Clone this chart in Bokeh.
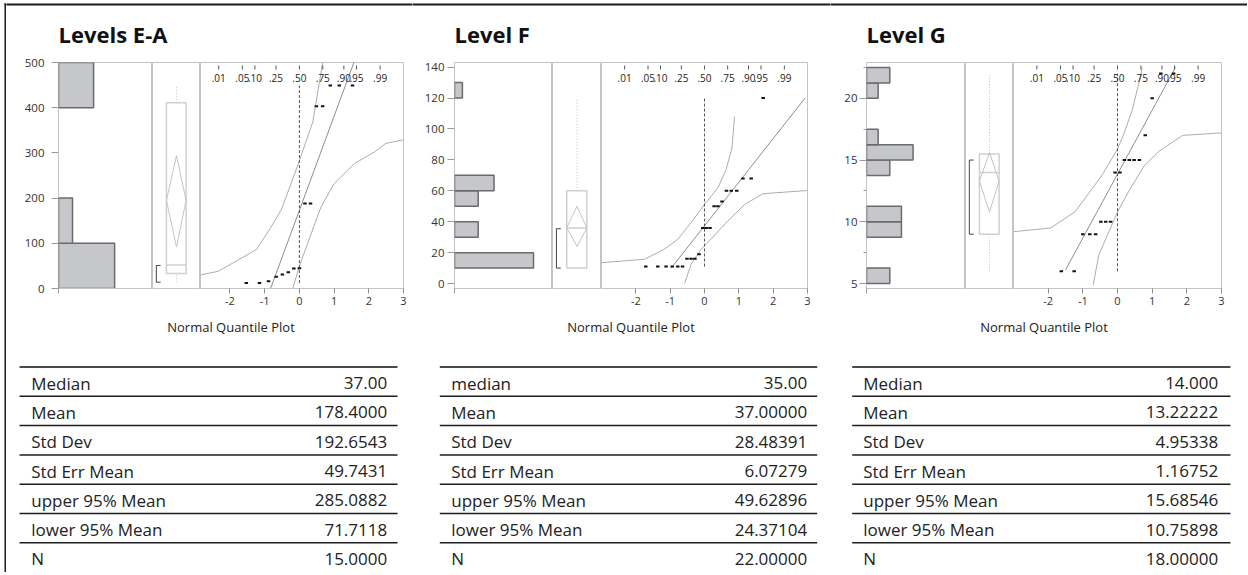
from bokeh.plotting import figure
from bokeh.models import Range1d, LinearAxis, FixedTicker
from bokeh.layouts import row, column
from bokeh.embed import file_html
from bokeh.resources import INLINE
from bokeh.core.properties import value

FONT = "Open Sans"

# ---------------- shared ----------------
prob_labels = [".01", ".05", ".10", ".25", ".50", ".75", ".90", ".95", ".99"]
prob_z = [-2.326, -1.645, -1.282, -0.674, 0.0, 0.674, 1.282, 1.645, 2.326]
qq_xticks = [-2, -1, 0, 1, 2, 3]
caption = "Normal Quantile Plot"

# ---------------- Levels E-A ----------------
ea_title = "Levels E-A"
ea_bin_lo = [0, 100, 400]
ea_bin_hi = [100, 200, 500]
ea_counts = [8, 2, 5]
ea_values = [12, 12, 16, 26, 31, 36, 44, 45, 188, 188, 403, 403, 449, 449, 449]
ea_qx = [-1.53, -1.15, -0.89, -0.67, -0.49, -0.32, -0.16, 0.00, 0.16, 0.32, 0.49, 0.67, 0.89, 1.15, 1.53]
ea_fit_x = [-0.83, 1.57]
ea_fit_y = [0, 500]
ea_upper_x = [-2.85, -2.34, -1.24, -0.84, -0.53, -0.24, 0.00, 0.385, 0.67]
ea_upper_y = [30, 38, 86, 133, 173, 232, 283, 368, 500]
ea_lower_x = [-0.19, 0.00, 0.62, 1.00, 1.58, 2.16, 2.49, 3.00]
ea_lower_y = [0, 50, 180, 232, 276, 302, 321, 329]
ea_box = [14, 33, 52, 411, 449]      # whisker low, q1, median, q3, whisker high
ea_diamond = [92, 195, 294]          # lower 95%, mean, upper 95%
ea_shortest = [14, 51]
ea_yticks = [0, 100, 200, 300, 400, 500]
ea_yminor = []
ea_yrange = [0, 500]
ea_hist_max = 13.4
ea_qrange = [-2.85, 3]
ea_stat_names = ["Median", "Mean", "Std Dev", "Std Err Mean", "upper 95% Mean", "lower 95% Mean", "N"]
ea_stat_values = ["37.00", "178.4000", "192.6543", "49.7431", "285.0882", "71.7118", "15.0000"]

# ---------------- Level F ----------------
f_title = "Level F"
f_bin_lo = [10, 30, 50, 60, 120]
f_bin_hi = [20, 40, 60, 70, 130]
f_counts = [10, 3, 3, 5, 1]
f_values = [11, 11, 11, 11, 11, 11, 16, 16, 16, 19, 36, 36, 36, 50, 50, 53, 60, 60, 60, 68, 68, 120]
f_qx = [-1.71, -1.36, -1.12, -0.94, -0.78, -0.64, -0.51, -0.39, -0.28, -0.16, -0.05,
        0.05, 0.16, 0.28, 0.39, 0.51, 0.64, 0.78, 0.94, 1.12, 1.36, 1.71]
f_fit_x = [-0.97, 2.93]
f_fit_y = [10, 120]
f_upper_x = [-3.0, -1.75, -1.17, -0.78, -0.39, 0.0, 0.39, 0.63, 0.80, 0.875]
f_upper_y = [13.5, 15.7, 22.2, 28.6, 39.4, 51.2, 61.9, 73.8, 87.7, 108]
f_lower_x = [-0.58, -0.39, -0.10, 0.0, 0.68, 1.17, 1.70, 3.0]
f_lower_y = [0, 12.5, 22.2, 24.3, 40.5, 51.2, 58.1, 60.2]
f_box = [10, 10, 36, 60, 120]
f_diamond = [24, 36, 50]
f_shortest = [10, 35.5]
f_yticks = [0, 20, 40, 60, 80, 100, 120, 140]
f_yminor = []
f_yrange = [-3.2, 143]
f_hist_max = 12.4
f_qrange = [-3, 3]
f_stat_names = ["median", "Mean", "Std Dev", "Std Err Mean", "upper 95% Mean", "lower 95% Mean", "N"]
f_stat_values = ["35.00", "37.00000", "28.48391", "6.07279", "49.62896", "24.37104", "22.00000"]

# ---------------- Level G ----------------
g_title = "Level G"
g_bin_lo = [5, 8.75, 10, 13.75, 15, 16.25, 20, 21.25]
g_bin_hi = [6.25, 10, 11.25, 15, 16.25, 17.5, 21.25, 22.5]
g_counts = [2, 3, 3, 2, 4, 1, 1, 2]
g_values = [6, 6, 9, 9, 9, 10, 10, 10, 14, 14, 15, 15, 15, 15, 17, 20, 22, 22]
g_qx = [-1.62, -1.25, -1.00, -0.80, -0.63, -0.48, -0.34, -0.20, -0.07,
        0.07, 0.20, 0.34, 0.48, 0.63, 0.80, 1.00, 1.25, 1.62]
g_fit_x = [-1.5, 1.67]
g_fit_y = [6.1, 22.5]
g_upper_x = [-3.0, -1.93, -1.23, -0.83, -0.44, 0.0, 0.18, 0.42, 0.66, 0.71]
g_upper_y = [9.2, 9.5, 10.8, 12.3, 13.8, 15.9, 17.1, 19.0, 21.7, 22.5]
g_lower_x = [-0.70, -0.54, -0.25, 0.0, 0.33, 0.76, 1.19, 1.88, 3.0]
g_lower_y = [4.9, 7.3, 9.2, 10.8, 12.5, 14.5, 15.7, 17.0, 17.2]
g_box = [6, 9, 14, 15.5, 22]
g_diamond = [10.8, 13.3, 15.6]
g_shortest = [9, 15]
g_yticks = [5, 10, 15, 20]
g_yminor = [7.5, 12.5, 17.5, 22.5]
g_yrange = [4.6, 22.9]
g_hist_max = 8.5
g_qrange = [-3, 3]
g_stat_names = ["Median", "Mean", "Std Dev", "Std Err Mean", "upper 95% Mean", "lower 95% Mean", "N"]
g_stat_values = ["14.000", "13.22222", "4.95338", "1.16752", "15.68546", "10.75898", "18.00000"]


def pack(prefix):
    gl = globals()
    keys = ["title", "bin_lo", "bin_hi", "counts", "values", "qx", "fit_x", "fit_y",
            "upper_x", "upper_y", "lower_x", "lower_y", "box", "diamond", "shortest",
            "yticks", "yminor", "yrange", "hist_max", "qrange", "stat_names", "stat_values"]
    return {k: gl[prefix + "_" + k] for k in keys}


BORDER_W = 6
# layout (pixels) for each panel, relative to the panel's left edge
layouts = [
    dict(hoff=52, hw=94, bw=48, qw=203, rb=9, ystand=7, tl=13, tr=391, lx=24.7, vx=380.7),
    dict(hoff=42, hw=98, bw=49, qw=206, rb=23, ystand=3, tl=27.3, tr=404.7, lx=38.7, vx=394.7),
    dict(hoff=36, hw=99, bw=48, qw=208, rb=26, ystand=2, tl=21.7, tr=400, lx=32.7, vx=387.7),
]

TOPPAD = 10                    # room above the frames for the top tick labels
H_T, H_P, H_U = 62 - TOPPAD, 250 + TOPPAD, 260
H_ALL = H_T + H_P + H_U
BOT = 24
FH = H_P - BOT - TOPPAD
FRAME = "#c4c4c4"
TXT = "#222222"
EDGE = "#1a1a1a"
EDGE_Y = 4


def base_fig(**kw):
    p = figure(toolbar_location=None, output_backend="svg", min_border=0,
               x_axis_location=None, y_axis_location=None, **kw)
    p.grid.visible = False
    p.background_fill_color = "white"
    p.border_fill_color = "white"
    return p


def build_panel(d, L):
    W = L["hoff"] + L["hw"] + L["bw"] + L["qw"] + L["rb"]
    yr = Range1d(d["yrange"][0], d["yrange"][1])
    y0, y1 = d["yrange"]
    span = y1 - y0

    # title (with the top edge of the outer frame)
    t = base_fig(width=W, height=H_T, x_range=Range1d(0, W), y_range=Range1d(H_T, 0))
    t.outline_line_color = None
    t.segment(x0=[-3], y0=[EDGE_Y], x1=[W + 3], y1=[EDGE_Y], line_color=EDGE, line_width=2)
    t.text(x=[L["hoff"]], y=[33.7], text=[d["title"]], text_font=value(FONT),
           text_font_size="22px", text_font_style="bold", text_baseline="middle",
           text_align="left", text_color="#111111")

    # histogram
    h = base_fig(width=L["hoff"] + L["hw"], height=H_P, x_range=Range1d(0, d["hist_max"]),
                 y_range=yr, min_border_left=L["hoff"], min_border_bottom=BOT,
                 min_border_top=TOPPAD)
    h.outline_line_color = FRAME
    h.quad(left=0, right=d["counts"], bottom=d["bin_lo"], top=d["bin_hi"],
           fill_color="#c6c7cb", line_color="#6b6b6b", line_width=1.5)
    yax = LinearAxis(ticker=FixedTicker(ticks=d["yticks"], minor_ticks=d["yminor"]),
                     major_tick_out=7, major_tick_in=0, minor_tick_out=3, minor_tick_in=0,
                     major_tick_line_color="#9a9a9a", minor_tick_line_color="#9a9a9a",
                     axis_line_color=None, major_label_text_font=FONT,
                     major_label_text_font_size="11.5px", major_label_text_color="#333333",
                     major_label_standoff=L["ystand"])
    h.add_layout(yax, "left")
    hx = LinearAxis(ticker=FixedTicker(ticks=[0]), major_label_overrides={0: ""},
                    major_tick_out=5, major_tick_in=0, major_tick_line_color="#9a9a9a",
                    axis_line_color=FRAME, major_label_text_font_size="11px")
    h.add_layout(hx, "below")

    # box plot
    b = base_fig(width=L["bw"], height=H_P, x_range=Range1d(0, 1), y_range=yr,
                 min_border_bottom=BOT, min_border_top=TOPPAD)
    b.outline_line_color = FRAME
    wlo, q1, med, q3, whi = d["box"]
    lo, mean, hi = d["diamond"]
    s_lo, s_hi = d["shortest"]
    b.segment(x0=[0.5, 0.5], y0=[wlo, q3], x1=[0.5, 0.5], y1=[q1, whi],
              line_color="#c4c4c4", line_dash="1 2", line_width=1)
    b.quad(left=[0.29], right=[0.70], bottom=[q1], top=[q3], fill_color=None,
           line_color="#cfcfcf", line_width=1.5)
    b.segment(x0=[0.29], y0=[med], x1=[0.70], y1=[med], line_color="#cfcfcf", line_width=1.5)
    b.patch(x=[0.29, 0.5, 0.70, 0.5], y=[mean, hi, mean, lo], fill_color=None,
            line_color="#c4c4c4", line_width=1)
    b.line(x=[0.17, 0.08, 0.08, 0.17], y=[s_hi, s_hi, s_lo, s_lo], line_color="#444444",
           line_width=1)

    # normal quantile plot
    q = base_fig(width=L["qw"] + L["rb"], height=H_P, x_range=Range1d(*d["qrange"]),
                 y_range=yr, min_border_right=L["rb"], min_border_bottom=BOT,
                 min_border_top=TOPPAD)
    q.outline_line_color = FRAME
    q.line(d["upper_x"], d["upper_y"], line_color="#acacac", line_width=1)
    q.line(d["lower_x"], d["lower_y"], line_color="#acacac", line_width=1)
    q.line(d["fit_x"], d["fit_y"], line_color="#8e8e8e", line_width=1)
    q.segment(x0=[0], y0=[min(d["values"])], x1=[0], y1=[max(d["values"])],
              line_color="#555555", line_dash="3 2", line_width=1)
    q.rect(x=d["qx"], y=d["values"], width=3.5, height=2, width_units="screen",
           height_units="screen", fill_color="#111111", line_color=None)
    n = len(prob_z)
    q.segment(x0=prob_z, y0=[y1 - 3 / FH * span] * n, x1=prob_z, y1=[y1 - 7 / FH * span] * n,
              line_color="#555555", line_width=1)
    q.text(x=prob_z, y=[y1 - 15.7 / FH * span] * n, text=prob_labels, text_font=value(FONT),
           text_font_size="10px", text_align="center", text_baseline="middle",
           text_color=TXT)
    qx = LinearAxis(ticker=FixedTicker(ticks=qq_xticks),
                    major_label_overrides={-2: "-2", -1: "-1"},
                    major_tick_out=5, major_tick_in=0, major_tick_line_color="#8a8a8a",
                    axis_line_color=FRAME, major_label_text_font=FONT,
                    major_label_text_font_size="11px", major_label_text_color="#333333",
                    major_label_standoff=3)
    q.add_layout(qx, "below")

    # caption + statistics table
    u = base_fig(width=W, height=H_U, x_range=Range1d(0, W), y_range=Range1d(H_U, 0))
    u.outline_line_color = None
    cx = L["hoff"] + (L["hw"] + L["bw"] + L["qw"]) / 2
    u.text(x=[cx], y=[14.7], text=[caption], text_font=value(FONT), text_font_size="13px",
           text_align="center", text_baseline="middle", text_color=TXT)
    names = d["stat_names"]
    vals = d["stat_values"]
    m = len(names)
    top, step = 54.5, 29.3
    u.segment(x0=[L["tl"]], y0=[top], x1=[L["tr"]], y1=[top], line_color="#4a4a4a",
              line_width=2)
    ly = [top + step * k for k in range(1, m)]
    u.segment(x0=[L["tl"]] * (m - 1), y0=ly, x1=[L["tr"]] * (m - 1), y1=ly,
              line_color="#1e1e1e", line_width=1.5)
    ty = [top + step * (k + 0.55) for k in range(m)]
    u.text(x=[L["lx"]] * m, y=ty, text=names, text_font=value(FONT), text_font_size="17px",
           text_align="left", text_baseline="middle", text_color=TXT)
    u.text(x=[L["vx"]] * m, y=ty, text=vals, text_font=value(FONT), text_font_size="17px",
           text_align="right", text_baseline="middle", text_color=TXT)

    return column(t, row(h, b, q), u)


# thin strip carrying the left edge of the outer frame
edge = base_fig(width=BORDER_W, height=H_ALL, x_range=Range1d(0, BORDER_W),
                y_range=Range1d(H_ALL, 0))
edge.outline_line_color = None
edge.segment(x0=[5], y0=[EDGE_Y - 1], x1=[5], y1=[H_ALL + 3], line_color=EDGE, line_width=2)
edge.segment(x0=[4], y0=[EDGE_Y], x1=[BORDER_W + 3], y1=[EDGE_Y], line_color=EDGE, line_width=2)

panels = [build_panel(pack(pfx), L) for pfx, L in zip(["ea", "f", "g"], layouts)]
root = row(edge, *panels, styles={"overflow": "hidden"})

open("out.html", "w").write(file_html(root, INLINE))
